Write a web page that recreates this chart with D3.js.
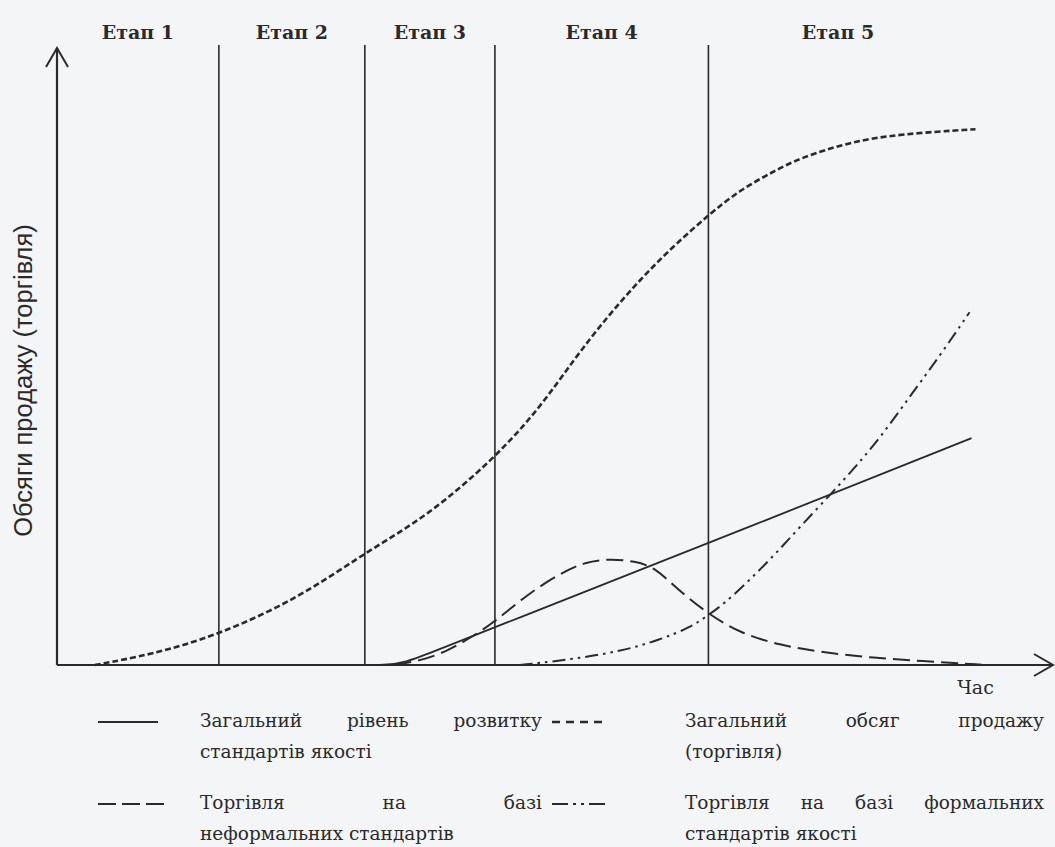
<!DOCTYPE html>
<html>
<head>
<meta charset="utf-8">
<script src="https://cdn.jsdelivr.net/npm/d3@7"></script>
<style>
  body { margin: 0; background: #f4f5f7; }
  svg { display: block; }
</style>
</head>
<body>
<div id="chart"></div>
<script>
width = 1055
height = 847

// time axis runs 0..100, volume axis 0..100 (relative units)
stageBounds = [0, 16.3, 31.0, 44.1, 65.6, 91.7]
stageLabels = ["Етап 1", "Етап 2", "Етап 3", "Етап 4", "Етап 5"]

// [time, volume]
totalSales = [[3.8,0],[9.4,1.7],[16.3,5.0],[24.5,11.3],[31.0,18.7],[37.3,24.8],[44.1,34.5],
  [48.6,42.8],[52.0,50.8],[55.4,58.0],[58.7,64.2],[62.0,69.7],[65.6,75.0],[68.8,79.2],
  [72.1,82.2],[74.8,84.5],[79.9,87.2],[84.9,88.5],[92.5,89.3]]
qualityLevel = [[32.5,0],[35.0,0.25],[38.6,2.7],[44.1,6.3],[65.6,20.3],[92.1,37.8]]
informalTrade = [[34.0,0],[36.6,0.7],[39.3,2.3],[41.6,4.5],[44.1,7.2],[47.3,11.7],[50.7,15.3],
  [53.2,17.2],[55.7,17.7],[58.2,17.3],[60.2,16.3],[62.7,12.3],[65.6,8.5],[68.8,5.3],[72.8,3.3],
  [76.8,2.2],[81.9,1.2],[86.9,0.7],[93.6,0]]
formalTrade = [[46.6,0],[50.7,0.7],[56.7,2.2],[60.7,4.2],[63.7,6.2],[65.6,8.3],[67.8,11.0],
  [71.8,17.5],[74.8,23.0],[79.2,30.7],[82.9,37.8],[86.2,45.5],[88.9,51.5],[91.9,58.8]]

yTitle = "Обсяги продажу (торгівля)"
xTitle = "Час"

legendLabels = [
  ["Загальний рівень розвитку", "стандартів якості"],
  ["Загальний обсяг продажу", "(торгівля)"],
  ["Торгівля на базі", "неформальних стандартів"],
  ["Торгівля на базі формальних", "стандартів якості"]
]

const ink = "#2a2a2a"

const series = [
  {data: qualityLevel,  dash: null,                 w: 1.8, legendDash: null},
  {data: totalSales,    dash: "6,3",                w: 2.6, legendDash: "8,6"},
  {data: informalTrade, dash: "17,7",               w: 2,   legendDash: "18,6"},
  {data: formalTrade,   dash: "13,5,2.5,5,2.5,5",   w: 2,   legendDash: "16,5,3,5,3,5"}
]

const x = d3.scaleLinear().domain([0, 100]).range([57, 1050])
const y = d3.scaleLinear().domain([0, 100]).range([665, 65])

const svg = d3.select("#chart").append("svg")
    .attr("width", width)
    .attr("height", height)

svg.append("rect").attr("width", width).attr("height", height).attr("fill", "#f4f5f7")

// open arrowhead for the axes
svg.append("defs").append("marker")
    .attr("id", "arrow")
    .attr("viewBox", "-22 -13 24 26")
    .attr("refX", 0).attr("refY", 0)
    .attr("markerUnits", "userSpaceOnUse")
    .attr("markerWidth", 24).attr("markerHeight", 26)
    .attr("orient", "auto")
  .append("path")
    .attr("d", "M-19,-11 L0,0 L-19,11")
    .attr("fill", "none")
    .attr("stroke", ink)
    .attr("stroke-width", 2)

// stage separators
svg.selectAll(".stage")
  .data(stageBounds.slice(1, -1))
  .enter().append("line")
    .attr("class", "stage")
    .attr("x1", d => x(d)).attr("x2", d => x(d))
    .attr("y1", 45).attr("y2", y(0))
    .attr("stroke", ink)
    .attr("stroke-width", 1.6)

svg.selectAll(".stageLabel")
  .data(stageLabels)
  .enter().append("text")
    .attr("class", "stageLabel")
    .attr("x", (d, i) => x((stageBounds[i] + stageBounds[i + 1]) / 2))
    .attr("y", 39)
    .attr("text-anchor", "middle")
    .style("font-family", "'DejaVu Serif', serif")
    .style("font-weight", "bold")
    .style("font-size", "19px")
    .attr("fill", ink)
    .text(d => d)

// axes
svg.append("line")
    .attr("x1", x(0)).attr("y1", y(0))
    .attr("x2", x(0)).attr("y2", 48)
    .attr("stroke", ink).attr("stroke-width", 2.2)
    .attr("marker-end", "url(#arrow)")
svg.append("line")
    .attr("x1", x(0)).attr("y1", y(0))
    .attr("x2", 1053).attr("y2", y(0))
    .attr("stroke", ink).attr("stroke-width", 2.2)
    .attr("marker-end", "url(#arrow)")

svg.append("text")
    .attr("transform", `translate(32,${(y(0) + 48) / 2 + 24}) rotate(-90)`)
    .attr("text-anchor", "middle")
    .style("font-family", "'Liberation Sans', Arial, sans-serif")
    .style("font-size", "25.5px")
    .attr("fill", ink)
    .text(yTitle)

svg.append("text")
    .attr("x", x(92.5)).attr("y", 694)
    .attr("text-anchor", "middle")
    .style("font-family", "'DejaVu Serif', serif")
    .style("font-size", "19px")
    .attr("fill", ink)
    .text(xTitle)

// curves (basis smoothing gives the hand-drawn look of the original)
const line = d3.line()
    .x(d => x(d[0]))
    .y(d => y(d[1]))
    .curve(d3.curveBasis)

svg.selectAll(".curve")
  .data(series)
  .enter().append("path")
    .attr("class", "curve")
    .attr("d", d => line(d.data))
    .attr("fill", "none")
    .attr("stroke", ink)
    .attr("stroke-width", d => d.w)
    .attr("stroke-dasharray", d => d.dash)

// legend: two columns, first line of each entry justified like the printed text
const cols = [{sx: 98, tx0: 200, tx1: 542}, {sx: 552, tx0: 685, tx1: 1044}]
const rows = [727, 809]

function justified(g, str, x0, x1, yy) {
  const words = str.split(" ")
  const t = g.selectAll(null).data(words).enter().append("text")
      .attr("y", yy)
      .style("font-family", "'DejaVu Serif', serif")
      .style("font-size", "18.5px")
      .attr("fill", ink)
      .text(d => d)
  const widths = t.nodes().map(n => n.getComputedTextLength())
  const total = d3.sum(widths)
  const gap = words.length > 1 ? (x1 - x0 - total) / (words.length - 1) : 0
  let pos = x0
  t.attr("x", (d, i) => { const p = pos; pos += widths[i] + gap; return p })
}

series.forEach((s, i) => {
  const c = cols[i % 2], r = rows[Math.floor(i / 2)]
  const g = svg.append("g")
  g.append("line")
      .attr("x1", c.sx).attr("x2", c.sx + (i % 2 ? 56 : (i === 0 ? 60 : 70)))
      .attr("y1", r - 5).attr("y2", r - 5)
      .attr("stroke", ink)
      .attr("stroke-width", i === 1 ? 2.4 : 2.2)
      .attr("stroke-dasharray", s.legendDash)
  justified(g, legendLabels[i][0], c.tx0, c.tx1, r)
  g.append("text")
      .attr("x", c.tx0).attr("y", r + 31)
      .style("font-family", "'DejaVu Serif', serif")
      .style("font-size", "18.5px")
      .attr("fill", ink)
      .text(legendLabels[i][1])
})
</script>
</body>
</html>
